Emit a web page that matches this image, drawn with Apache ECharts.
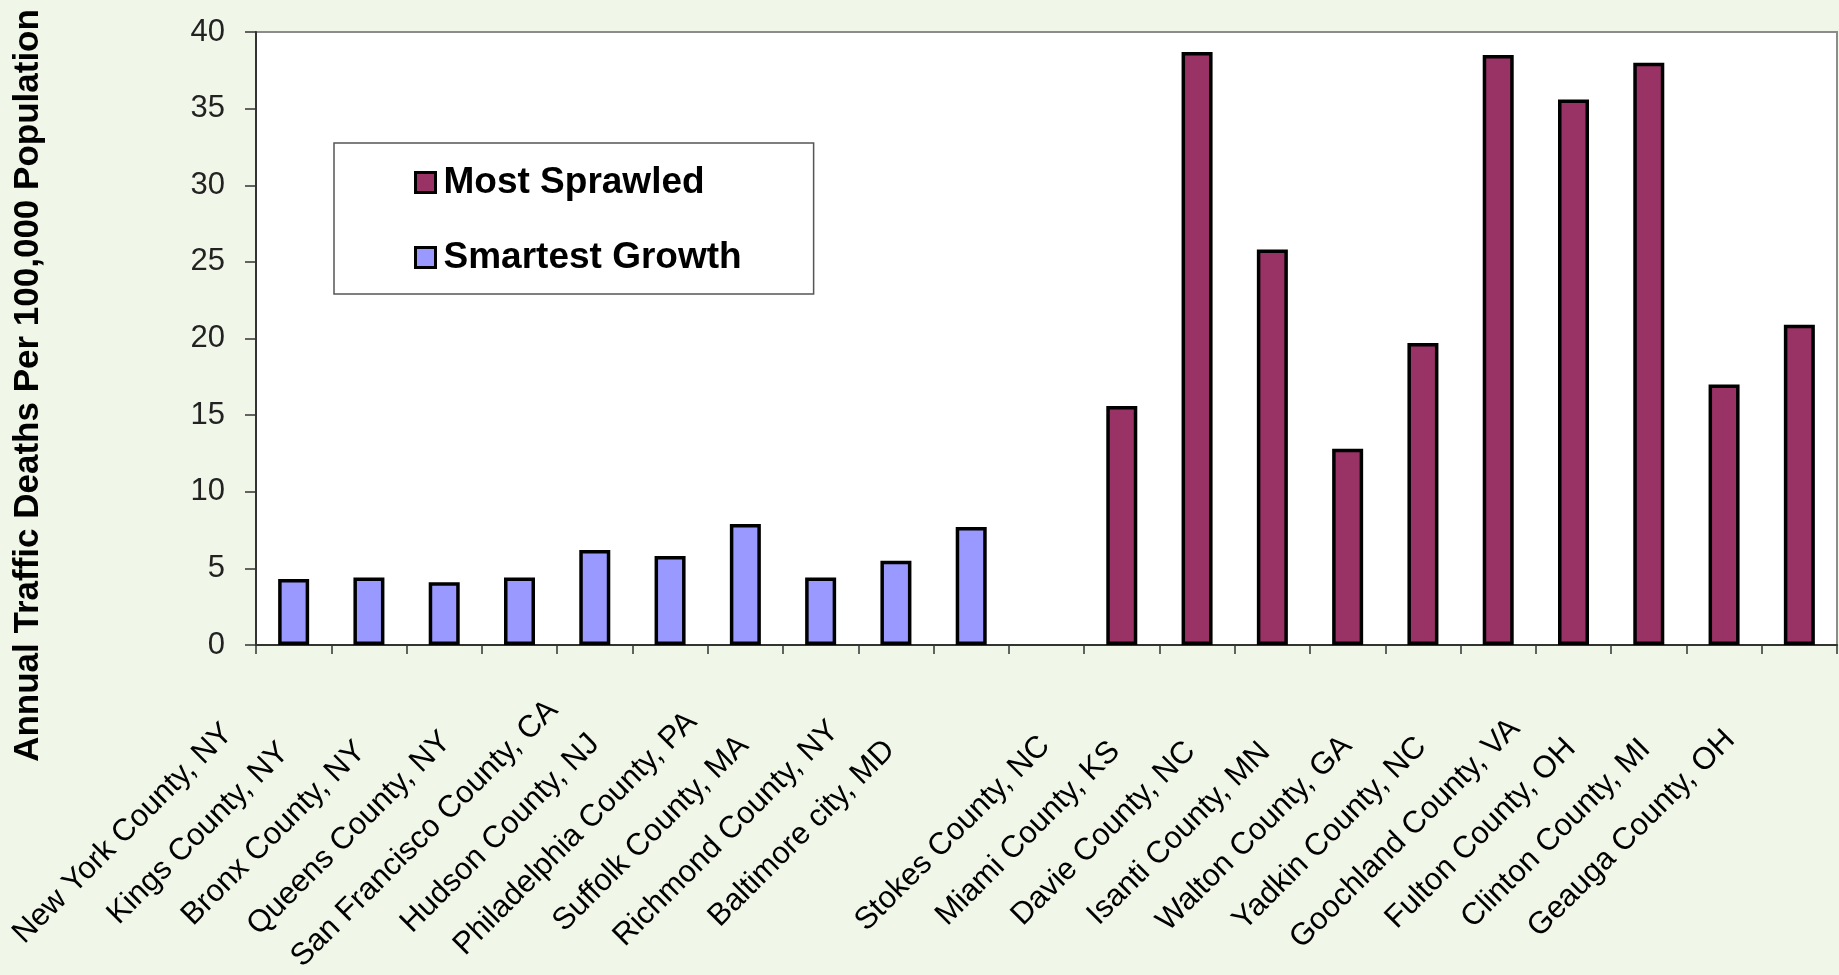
<!DOCTYPE html>
<html>
<head>
<meta charset="utf-8">
<script src="https://cdn.jsdelivr.net/npm/echarts@6/dist/echarts.min.js"></script>
<style>
html,body{margin:0;padding:0;background:#F0F6E8;}
#chart{width:1839px;height:975px;}
</style>
</head>
<body>
<div id="chart"></div>
<script>
const categories = ['New York County, NY','Kings County, NY','Bronx County, NY','Queens County, NY','San Francisco County, CA','Hudson County, NJ','Philadelphia County, PA','Suffolk County, MA','Richmond County, NY','Baltimore city, MD','','Stokes County, NC','Miami County, KS','Davie County, NC','Isanti County, MN','Walton County, GA','Yadkin County, NC','Goochland County, VA','Fulton County, OH','Clinton County, MI','Geauga County, OH'];
const smartestGrowth = [4.3, 4.4, 4.1, 4.4, 6.2, 5.8, 7.9, 4.4, 5.5, 7.7, '-', '-', '-', '-', '-', '-', '-', '-', '-', '-', '-'];
const mostSprawled = ['-', '-', '-', '-', '-', '-', '-', '-', '-', '-', '-', 15.6, 38.7, 25.8, 12.8, 19.7, 38.5, 35.6, 38.0, 17.0, 20.9];
const yTicks = [0, 5, 10, 15, 20, 25, 30, 35, 40];

const FONT = "'Liberation Sans', Arial, sans-serif";
const chart = echarts.init(document.getElementById('chart'), null, {renderer: 'canvas'});
chart.setOption({
  backgroundColor: '#F0F6E8',
  animation: false,
  grid: [
    {
      left: 256, top: 32, right: 2, bottom: 330,
      show: true, backgroundColor: '#ffffff', borderColor: '#8c8c8c', borderWidth: 2
    },
    {
      left: 255, top: 32, width: 1610, bottom: 330, show: false
    }
  ],
  legend: {
    orient: 'vertical',
    left: 334, top: 143,
    padding: [21, 72, 18, 80],
    backgroundColor: '#ffffff',
    borderColor: '#555555',
    borderWidth: 1.5,
    itemWidth: 20, itemHeight: 20, itemGap: 38,
    icon: 'rect',
    itemStyle: {borderColor: '#000', borderWidth: 3},
    textStyle: {fontFamily: FONT, fontSize: 37, fontWeight: 'bold', color: '#000', lineHeight: 36, padding: [0, 0, 0, 3]},
    data: ['Most Sprawled', 'Smartest Growth']
  },
  xAxis: [
    {
      type: 'category', gridIndex: 0,
      data: categories,
      axisLine: {show: true, lineStyle: {color: '#333', width: 2}},
      axisTick: {show: true, interval: 0, length: 9, lineStyle: {color: '#333', width: 1.5}},
      axisLabel: {show: false, interval: 0},
      splitLine: {show: false}
    },
    {
      type: 'category', gridIndex: 1,
      data: categories,
      axisLine: {show: false},
      axisTick: {show: false},
      axisLabel: {
        interval: 0, rotate: 45, margin: 35,
        align: 'center', verticalAlign: 'middle',
        padding: [0, 480, 0, 0],
        fontFamily: FONT, fontSize: 31, color: '#000'
      },
      splitLine: {show: false}
    }
  ],
  yAxis: [
    {
      type: 'value', gridIndex: 0,
      min: yTicks[0], max: yTicks[yTicks.length - 1], interval: 5,
      name: 'Annual Traffic Deaths Per 100,000 Population',
      nameLocation: 'middle', nameRotate: 90, nameGap: 210,
      nameTextStyle: {fontFamily: FONT, fontSize: 35, fontWeight: 'bold', color: '#000', padding: [0, 94, 0, 0]},
      axisLine: {show: true, lineStyle: {color: '#333', width: 2}},
      axisTick: {show: true, length: 11, lineStyle: {color: '#333', width: 1.5}},
      axisLabel: {margin: 31, fontFamily: FONT, fontSize: 31, color: '#222'},
      splitLine: {show: false}
    },
    {
      type: 'value', gridIndex: 1, show: false,
      min: yTicks[0], max: yTicks[yTicks.length - 1]
    }
  ],
  series: [
    {
      name: 'Most Sprawled', type: 'bar', data: mostSprawled,
      xAxisIndex: 0, yAxisIndex: 0,
      barWidth: 31, barGap: '-100%',
      itemStyle: {color: '#993366', borderColor: '#000', borderWidth: 3.5}
    },
    {
      name: 'Smartest Growth', type: 'bar', data: smartestGrowth,
      xAxisIndex: 0, yAxisIndex: 0,
      barWidth: 31, barGap: '-100%',
      itemStyle: {color: '#9999FF', borderColor: '#000', borderWidth: 3.5}
    }
  ]
});
</script>
</body>
</html>
